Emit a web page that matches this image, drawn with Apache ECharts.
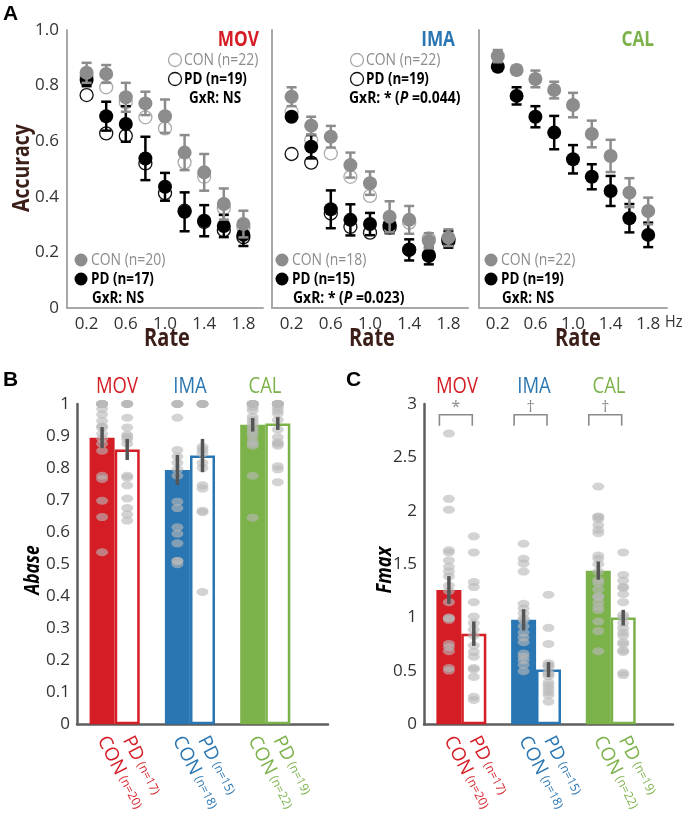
<!DOCTYPE html>
<html>
<head>
<meta charset="utf-8">
<script src="https://cdn.jsdelivr.net/npm/echarts@6/dist/echarts.min.js"></script>
<style>html,body{margin:0;padding:0;background:#fff}#c{width:682px;height:815px}</style>
</head>
<body>
<div id="c"></div>
<script>
// ---------- Panel A data ----------
const rates = [0.2, 0.4, 0.6, 0.8, 1.0, 1.2, 1.4, 1.6, 1.8];
const rateTicks = [0.2, 0.6, 1.0, 1.4, 1.8];
const accTicks = [0, 0.2, 0.4, 0.6, 0.8, 1.0];

const movConMean = [0.846, 0.842, 0.758, 0.736, 0.690, 0.559, 0.488, 0.374, 0.302];
const movConSE   = [0.036, 0.032, 0.052, 0.042, 0.060, 0.063, 0.066, 0.056, 0.048];
const movPdMean  = [0.820, 0.690, 0.662, 0.538, 0.436, 0.346, 0.314, 0.295, 0.263];
const movPdSE    = [0.022, 0.052, 0.064, 0.078, 0.050, 0.070, 0.056, 0.040, 0.040];
const movConOpen = [0.830, 0.794, 0.740, 0.686, 0.646, 0.524, 0.472, 0.359, 0.290];
const movPdOpen  = [0.766, 0.628, 0.619, 0.520, 0.413, 0.350, 0.310, 0.280, 0.255];

const imaConMean = [0.760, 0.656, 0.616, 0.514, 0.449, 0.328, 0.317, 0.242, 0.253];
const imaConSE   = [0.034, 0.032, 0.039, 0.045, 0.042, 0.056, 0.050, 0.027, 0.030];
const imaPdMean  = [0.688, 0.580, 0.355, 0.317, 0.302, 0.299, 0.209, 0.187, 0.247];
const imaPdSE    = [0.010, 0.042, 0.068, 0.056, 0.040, 0.030, 0.038, 0.030, 0.030];
const imaConOpen = [0.706, 0.604, 0.556, 0.472, 0.403, 0.300, 0.307, 0.250, 0.250];
const imaPdOpen  = [0.554, 0.523, 0.340, 0.292, 0.271, 0.290, 0.210, 0.190, 0.240];

const calConMean = [0.906, 0.856, 0.824, 0.784, 0.730, 0.626, 0.547, 0.415, 0.349];
const calConSE   = [0.022, 0.015, 0.030, 0.030, 0.044, 0.048, 0.058, 0.052, 0.048];
const calPdMean  = [0.868, 0.763, 0.688, 0.631, 0.535, 0.472, 0.421, 0.323, 0.263];
const calPdSE    = [0.015, 0.031, 0.038, 0.060, 0.051, 0.045, 0.054, 0.051, 0.044];

// ---------- Panels B & C data ----------
const groups = ['MOV', 'IMA', 'CAL'];
const barSlots = [1, 2, 4, 5, 7, 8];
const barGroup = ['CON', 'PD', 'CON', 'PD', 'CON', 'PD'];
const barN = ['(n=20)', '(n=17)', '(n=18)', '(n=15)', '(n=22)', '(n=19)'];

const abaseMean = [0.895, 0.858, 0.794, 0.839, 0.935, 0.939];
const abaseSE   = [0.033, 0.033, 0.047, 0.052, 0.021, 0.020];
const abaseDots = [
  [1,1,1,1,1,1,0.985,0.967,0.947,0.93,0.927,0.907,0.892,0.876,0.854,0.776,0.766,0.698,0.647,0.537],
  [1,1,1,1,0.957,0.927,0.904,0.898,0.89,0.876,0.776,0.77,0.746,0.705,0.675,0.655,0.636],
  [1,1,1,1,0.957,0.856,0.836,0.816,0.796,0.776,0.695,0.675,0.615,0.595,0.565,0.51,0.51,0.50],
  [1,1,1,1,1,0.866,0.856,0.846,0.816,0.80,0.746,0.736,0.667,0.662,0.413],
  [1,1,1,1,1,1,1,1,0.99,0.98,0.96,0.95,0.94,0.93,0.92,0.91,0.90,0.885,0.876,0.87,0.776,0.645],
  [1,1,1,1,1,1,1,0.99,0.98,0.97,0.95,0.92,0.896,0.88,0.876,0.87,0.806,0.796,0.756]
];

const fmaxMean = [1.258, 0.849, 0.978, 0.512, 1.439, 0.999];
const fmaxSE   = [0.130, 0.115, 0.100, 0.070, 0.085, 0.073];
const fmaxDots = [
  [2.723,2.112,2.01,1.63,1.61,1.535,1.475,1.43,1.385,1.3,1.249,1.144,1.0,0.993,0.978,0.753,0.723,0.684,0.527,0.503],
  [1.76,1.61,1.333,1.285,1.144,1.009,0.948,0.888,0.83,0.738,0.678,0.633,0.527,0.512,0.443,0.257,0.227],
  [1.691,1.55,1.505,1.43,1.129,1.084,1.039,0.99,0.978,0.918,0.858,0.813,0.768,0.663,0.633,0.6,0.557,0.497],
  [1.213,0.903,0.753,0.572,0.55,0.542,0.482,0.47,0.45,0.392,0.362,0.332,0.3,0.272,0.212],
  [2.227,1.947,1.941,1.92,1.866,1.82,1.79,1.58,1.55,1.5,1.43,1.35,1.324,1.264,1.2,1.189,1.144,1.1,1.069,0.963,0.873,0.684],
  [1.61,1.399,1.345,1.285,1.279,1.219,1.144,1.024,1.0,0.948,0.9,0.858,0.828,0.768,0.75,0.693,0.678,0.482,0.461]
];
const sigMarks = ['*', '\u2020', '\u2020'];

// ---------- styling ----------
const F = "'Open Sans',sans-serif";
const GC = ['#d51d25', '#2a76b2', '#7bb24a'];
const CON_C = '#8c8c8c', PD_C = '#000000';
const BROWN = '#3b1e17';
const AX_A = '#a8a8a8', AX_B = '#5e5e5e';

const chart = echarts.init(document.getElementById('c'));

const grids = [
  {left: 67, top: 30, width: 196, height: 278},
  {left: 272, top: 30, width: 196, height: 278},
  {left: 479, top: 30, width: 188, height: 278},
  {left: 77, top: 404, width: 251, height: 332},
  {left: 424, top: 404, width: 249, height: 332}
];

const isTick = (v, list) => list.some(t => Math.abs(v - t) < 1e-6);

const xAxes = [], yAxes = [];
for (let i = 0; i < 3; i++) {
  xAxes.push({
    gridIndex: i, type: 'value', min: 0, max: 2, interval: 0.2,
    axisLine: {show: true, onZero: false, lineStyle: {color: AX_A, width: 2}},
    axisTick: {show: false}, splitLine: {show: false},
    axisLabel: {color: '#333', fontSize: 17, fontFamily: F, margin: 8,
      showMinLabel: true, showMaxLabel: true,
      formatter: v => isTick(v, rateTicks) ? v.toFixed(1) : ''}
  });
  yAxes.push({
    gridIndex: i, type: 'value', min: 0, max: 1, interval: 0.2,
    axisLine: {show: true, onZero: false, lineStyle: {color: AX_A, width: 2}},
    axisTick: {show: false}, splitLine: {show: false},
    axisLabel: {show: i === 0, color: '#333', fontSize: 17, fontFamily: F, margin: 8,
      formatter: v => isTick(v, accTicks) ? (v === 0 ? '0' : v.toFixed(1)) : ''}
  });
}
const rich = {};
GC.forEach((c, g) => {
  rich['b' + g] = {color: c, fontSize: 19, fontFamily: F};
  rich['s' + g] = {color: c, fontSize: 12, fontFamily: F};
});
function barLabel(v) {
  const k = barSlots.findIndex(s => Math.abs(s - v) < 1e-6);
  if (k < 0) return '';
  const g = Math.floor(k / 2);
  return '{b' + g + '|' + barGroup[k] + '} {s' + g + '|' + barN[k] + '}';
}
[3, 4].forEach(i => {
  xAxes.push({
    gridIndex: i, type: 'value', min: 0, max: 10, interval: 1,
    axisLine: {show: true, onZero: false, lineStyle: {color: AX_B, width: 2.5}},
    axisTick: {show: false}, splitLine: {show: false},
    axisLabel: {rotate: -63, margin: 13, formatter: barLabel, rich: rich}
  });
  yAxes.push({
    gridIndex: i, type: 'value', min: 0, max: i === 3 ? 1 : 3, interval: i === 3 ? 0.1 : 0.5,
    axisLine: {show: true, onZero: false, lineStyle: {color: AX_B, width: 2.5}},
    axisTick: {show: false}, splitLine: {show: false},
    axisLabel: {color: '#333', fontSize: 17, fontFamily: F, margin: 7}
  });
});

function errSeries(ai, data, color, capPx, lw, z) {
  return {
    type: 'custom', xAxisIndex: ai, yAxisIndex: ai, z: z, silent: true,
    encode: {x: 0, y: 1},
    data: data,
    renderItem: function (params, api) {
      const x = api.value(0), y = api.value(1), e = api.value(2);
      const hi = api.coord([x, y + e]), lo = api.coord([x, y - e]);
      const st = {stroke: color, lineWidth: lw};
      const ch = [{type: 'line', shape: {x1: hi[0], y1: hi[1], x2: lo[0], y2: lo[1]}, style: st}];
      if (capPx) {
        ch.push({type: 'line', shape: {x1: hi[0] - capPx, y1: hi[1], x2: hi[0] + capPx, y2: hi[1]}, style: st});
        ch.push({type: 'line', shape: {x1: lo[0] - capPx, y1: lo[1], x2: lo[0] + capPx, y2: lo[1]}, style: st});
      }
      return {type: 'group', children: ch};
    }
  };
}
function pts(xs, ys) { return xs.map((x, k) => [x, ys[k]]); }
function errPts(xs, ys, es) { return xs.map((x, k) => [x, ys[k], es[k]]); }

const series = [];
const panelsA = [
  {con: movConMean, conSE: movConSE, pd: movPdMean, pdSE: movPdSE, conO: movConOpen, pdO: movPdOpen},
  {con: imaConMean, conSE: imaConSE, pd: imaPdMean, pdSE: imaPdSE, conO: imaConOpen, pdO: imaPdOpen},
  {con: calConMean, conSE: calConSE, pd: calPdMean, pdSE: calPdSE}
];
panelsA.forEach((p, i) => {
  if (p.conO) {
    series.push({type: 'scatter', xAxisIndex: i, yAxisIndex: i, z: 2, symbolSize: 13, silent: true,
      itemStyle: {color: '#fff', borderColor: '#ababab', borderWidth: 1.3, opacity: 1},
      data: pts(rates, p.conO)});
    series.push({type: 'scatter', xAxisIndex: i, yAxisIndex: i, z: 2, symbolSize: 13, silent: true,
      itemStyle: {color: '#fff', borderColor: '#111', borderWidth: 1.3, opacity: 1},
      data: pts(rates, p.pdO)});
  }
  series.push(errSeries(i, errPts(rates, p.pd, p.pdSE), PD_C, 5, 2.5, 3));
  series.push({type: 'scatter', xAxisIndex: i, yAxisIndex: i, z: 4, symbolSize: 14, silent: true,
    itemStyle: {color: PD_C, opacity: 1}, data: pts(rates, p.pd)});
  series.push(errSeries(i, errPts(rates, p.con, p.conSE), CON_C, 5, 2.5, 5));
  series.push({type: 'scatter', xAxisIndex: i, yAxisIndex: i, z: 6, symbolSize: 14, silent: true,
    itemStyle: {color: CON_C, opacity: 1}, data: pts(rates, p.con)});
});

[[3, abaseMean, abaseSE, abaseDots], [4, fmaxMean, fmaxSE, fmaxDots]].forEach(([ai, mean, se, dots]) => {
  series.push({
    type: 'bar', xAxisIndex: ai, yAxisIndex: ai, barWidth: 25, z: 2, silent: true,
    data: barSlots.map((s, k) => {
      const c = GC[Math.floor(k / 2)];
      return {value: [s, mean[k]], itemStyle: k % 2 === 0 ? {color: c} : {color: '#fff', borderColor: c, borderWidth: 2.5}};
    })
  });
  const dd = [];
  dots.forEach((arr, k) => arr.forEach(v => dd.push([barSlots[k], v])));
  series.push({type: 'scatter', xAxisIndex: ai, yAxisIndex: ai, z: 3, symbolSize: [12, 8], silent: true,
    itemStyle: {color: 'rgba(185,185,185,0.78)'}, data: dd});
  series.push(errSeries(ai, errPts(barSlots, mean, se), '#555', 0, 3.5, 4));
});

// significance brackets (panel C)
series.push({
  type: 'custom', xAxisIndex: 4, yAxisIndex: 4, z: 5, silent: true, encode: {x: 0, y: 2},
  data: [0, 1, 2].map(g => [barSlots[2 * g], barSlots[2 * g + 1], 2.9]),
  renderItem: function (params, api) {
    const a = api.coord([api.value(0), api.value(2)]);
    const b = api.coord([api.value(1), api.value(2)]);
    const x1 = a[0] - 9.5, x2 = b[0] - 1.5, y = a[1], yb = y + 11;
    return {type: 'group', children: [
      {type: 'polyline', shape: {points: [[x1, yb], [x1, y], [x2, y], [x2, yb]]}, style: {stroke: '#8a8a8a', lineWidth: 1.6, fill: null}},
      {type: 'text', x: (x1 + x2) / 2, y: y - 7, style: {text: sigMarks[params.dataIndex], fill: '#8a8a8a', font: '16px ' + F, align: 'center', verticalAlign: 'middle'}}
    ]};
  }
});

// ---------- text graphics ----------
const g = [];
function T(x, y, text, font, fill, align, rot, sx, rich) {
  g.push({type: 'text', x: x, y: y, rotation: rot || 0, scaleX: sx || 1, z: 100, silent: true,
    style: {text: text, font: font, fill: fill || '#000', align: align || 'left', verticalAlign: 'middle', rich: rich}});
}
function C(cx, cy, open, color) {
  g.push({type: 'circle', z: 100, silent: true, shape: {cx: cx, cy: cy, r: 6.5},
    style: open ? {fill: '#fff', stroke: color, lineWidth: 1.3} : {fill: color}});
}
const f16 = '16px ' + F, b16 = 'bold 16px ' + F;
const SR = 0.87, SB = 0.84;
const gxrRich = {
  b: {font: b16, fill: '#000'},
  i: {font: 'bold italic 16px ' + F, fill: '#000'}
};
T(3, 14, 'A', 'bold 21px Arial, sans-serif');
T(3, 380, 'B', 'bold 21px Arial, sans-serif');
T(346, 380, 'C', 'bold 21px Arial, sans-serif');
T(22, 168, 'Accuracy', 'bold 24px ' + F, BROWN, 'center', Math.PI / 2, 0.81);
[167, 372, 578].forEach(x => T(x, 339, 'Rate', 'bold 25px ' + F, BROWN, 'center', 0, 0.8));
T(665, 322, 'Hz', '17px ' + F, '#333', 'left', 0, 0.85);

// Panel A headers & legends
T(259, 40, groups[0], 'bold 21px ' + F, GC[0], 'right', 0, 0.82);
T(455, 40, groups[1], 'bold 21px ' + F, GC[1], 'right', 0, 0.82);
T(654, 40, groups[2], 'bold 21px ' + F, GC[2], 'right', 0, 0.82);

C(175, 60, true, '#a8a8a8'); T(184, 60, 'CON (n=22)', f16, CON_C, 'left', 0, SR);
C(175, 79, true, '#111'); T(184, 79, 'PD (n=19)', b16, '#000', 'left', 0, SB);
T(189, 98, 'GxR: NS', b16, '#000', 'left', 0, SB);
C(81, 260, false, CON_C); T(91, 260, 'CON (n=20)', f16, CON_C, 'left', 0, SR);
C(81, 279, false, PD_C); T(91, 279, 'PD (n=17)', b16, '#000', 'left', 0, SB);
T(92, 298, 'GxR: NS', b16, '#000', 'left', 0, SB);

C(357, 60, true, '#a8a8a8'); T(366, 60, 'CON (n=22)', f16, CON_C, 'left', 0, SR);
C(357, 79, true, '#111'); T(366, 79, 'PD (n=19)', b16, '#000', 'left', 0, SB);
T(349, 98, '{b|GxR: * (}{i|P}{b| =0.044)}', b16, '#000', 'left', 0, 0.87, gxrRich);
C(282, 260, false, CON_C); T(292, 260, 'CON (n=18)', f16, CON_C, 'left', 0, SR);
C(282, 279, false, PD_C); T(292, 279, 'PD (n=15)', b16, '#000', 'left', 0, SB);
T(293, 298, '{b|GxR: * (}{i|P}{b| =0.023)}', b16, '#000', 'left', 0, 0.87, gxrRich);

C(491, 260, false, CON_C); T(501, 260, 'CON (n=22)', f16, CON_C, 'left', 0, SR);
C(491, 279, false, PD_C); T(501, 279, 'PD (n=19)', b16, '#000', 'left', 0, SB);
T(502, 298, 'GxR: NS', b16, '#000', 'left', 0, SB);

// Panels B, C headers
[[117, 190, 265], [457, 534, 609]].forEach(xs => xs.forEach((x, k) => T(x, 387, groups[k], '22px ' + F, GC[k], 'center', 0, 0.84)));
T(33, 570, 'Abase', 'italic bold 21px ' + F, '#000', 'center', Math.PI / 2, 0.83);
T(385, 570, 'Fmax', 'italic bold 21px ' + F, '#000', 'center', Math.PI / 2, 0.87);

chart.setOption({
  animation: false,
  backgroundColor: '#fff',
  grid: grids,
  xAxis: xAxes,
  yAxis: yAxes,
  series: series,
  graphic: g
});
</script>
</body>
</html>
